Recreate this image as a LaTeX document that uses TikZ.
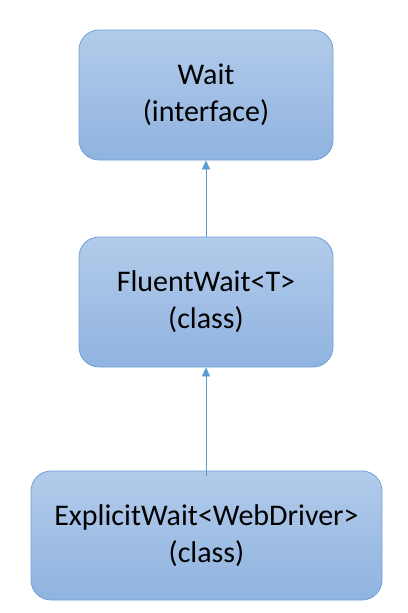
\documentclass[tikz,border=0pt]{standalone}
\usepackage{fontspec}
\setmainfont{Carlito}
\usetikzlibrary{arrows.meta}
\begin{document}
\begin{tikzpicture}[x=1pt,y=1pt,
  box/.style={draw=boxborder, line width=0.8pt, rounded corners=20pt,
    top color=boxtop, bottom color=boxbot, align=center, inner sep=0pt,
    font=\fontsize{30}{37}\selectfont, text=black},
  link/.style={draw=linkcol, line width=0.5pt, -{Triangle[width=8pt,length=9pt]}}]
\definecolor{boxtop}{HTML}{B2CBEA}
\definecolor{boxbot}{HTML}{90B3E0}
\definecolor{boxborder}{HTML}{6FA1D9}
\definecolor{linkcol}{HTML}{5B9BD5}
\useasboundingbox (0,0) rectangle (407,-613);
\node[box, minimum width=254pt, minimum height=130pt] (wait) at (206,-95) {Wait\\(interface)};
\node[box, minimum width=254pt, minimum height=130pt] (fluent) at (206,-302) {FluentWait<T>\\(class)};
\node[box, minimum width=351pt, minimum height=129pt] (explicit) at (206.5,-535.5) {ExplicitWait<WebDriver>\\(class)};
\draw[link] (fluent.north -| wait.south) -- (wait.south);
\draw[link] ([yshift=-5pt]explicit.north -| fluent.south) -- (fluent.south);
\end{tikzpicture}
\end{document}
